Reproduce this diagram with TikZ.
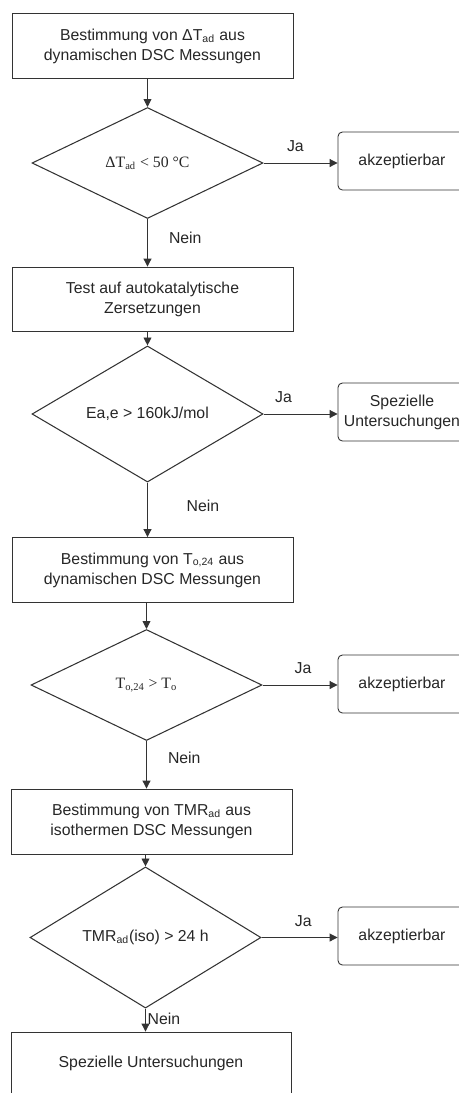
\documentclass[tikz,border=0pt]{standalone}
\usepackage{fontspec}
\setmainfont{Liberation Sans}
\newfontfamily\tms{Liberation Serif}
\usepackage{tikz}
\usetikzlibrary{shapes.geometric,arrows.meta,positioning}

\begin{document}
\begin{tikzpicture}[
    x=0.02cm, y=-0.02cm,
    font=\fontsize{9}{11.4}\selectfont, text=black!85,
    proc/.style={draw=black!80, line width=0.5pt, minimum width=5.62cm, minimum height=1.3cm, align=center},
    dec/.style={draw=black!80, line width=0.6pt, diamond, minimum width=4.62cm, minimum height=2.22cm, inner sep=0pt, align=center},
    res/.style={draw=black!80, line width=0.5pt, rounded corners=2.5pt, minimum width=2.56cm, minimum height=1.16cm, align=center},
    arr/.style={draw=black!80, line width=0.5pt, -{Triangle[length=4.5pt, width=4.5pt]}},
    lbl/.style={inner sep=1pt},
]

\useasboundingbox (0,0) rectangle (458,1093);

% Step 1
\node[proc] (b1) at (152.5, 46) {Bestimmung von ΔT\textsubscript{ad} aus\\dynamischen DSC Messungen};
\node[dec] (d1) at (147.5, 163) {\tms ΔT\textsubscript{ad} < 50 °C};
\node[res] (r1) at (402, 161) {akzeptierbar};

% Step 2
\node[proc, minimum height=1.28cm] (b2) at (152.5, 299) {Test auf autokatalytische\\Zersetzungen};
\node[dec] (d2) at (147.5, 414) {Ea,e > 160kJ/mol};
\node[res] (r2) at (402, 412) {Spezielle\\Untersuchungen};

% Step 3
\node[proc] (b3) at (152.5, 570) {Bestimmung von T\textsubscript{o,24} aus\\dynamischen DSC Messungen};
\node[dec] (d3) at (146.5, 685) {\tms T\textsubscript{o,24} > T\textsubscript{o}};
\node[res] (r3) at (402, 684) {akzeptierbar};

% Step 4
\node[proc] (b4) at (151.5, 821.5) {Bestimmung von TMR\textsubscript{ad} aus\\isothermen DSC Messungen};
\node[dec] (d4) at (145.5, 937.5) {TMR\textsubscript{ad}(iso) > 24 h};
\node[res] (r4) at (402, 936) {akzeptierbar};

% End
\node[proc, minimum width=5.6cm, minimum height=1.24cm] (b5) at (151, 1063) {Spezielle Untersuchungen};

% Arrows down
\draw[arr] (d1.north |- b1.south) -- (d1.north);
\draw[arr] (d2.north |- b2.south) -- (d2.north);
\draw[arr] (d3.north |- b3.south) -- (d3.north);
\draw[arr] (d4.north |- b4.south) -- (d4.north);

\draw[arr] (d1.south) -- (d1.south |- b2.north) node[lbl, pos=0.39, anchor=west, xshift=11] {Nein};
\draw[arr] (d2.south) -- (d2.south |- b3.north) node[lbl, pos=0.43, anchor=west, xshift=21] {Nein};
\draw[arr] (d3.south) -- (d3.south |- b4.north) node[lbl, pos=0.35, anchor=west, xshift=11] {Nein};
\draw[arr] (d4.south) -- (d4.south |- b5.north) node[lbl, pos=0.44, anchor=west] {Nein};

% Arrows right
\draw[arr] (d1.east) -- (d1.east -| r1.west) node[lbl, pos=0.43, above=5pt] {Ja};
\draw[arr] (d2.east) -- (d2.east -| r2.west) node[lbl, pos=0.27, above=5pt] {Ja};
\draw[arr] (d3.east) -- (d3.east -| r3.west) node[lbl, pos=0.54, above=5pt] {Ja};
\draw[arr] (d4.east) -- (d4.east -| r4.west) node[lbl, pos=0.55, above=5pt] {Ja};

\end{tikzpicture}
\end{document}
